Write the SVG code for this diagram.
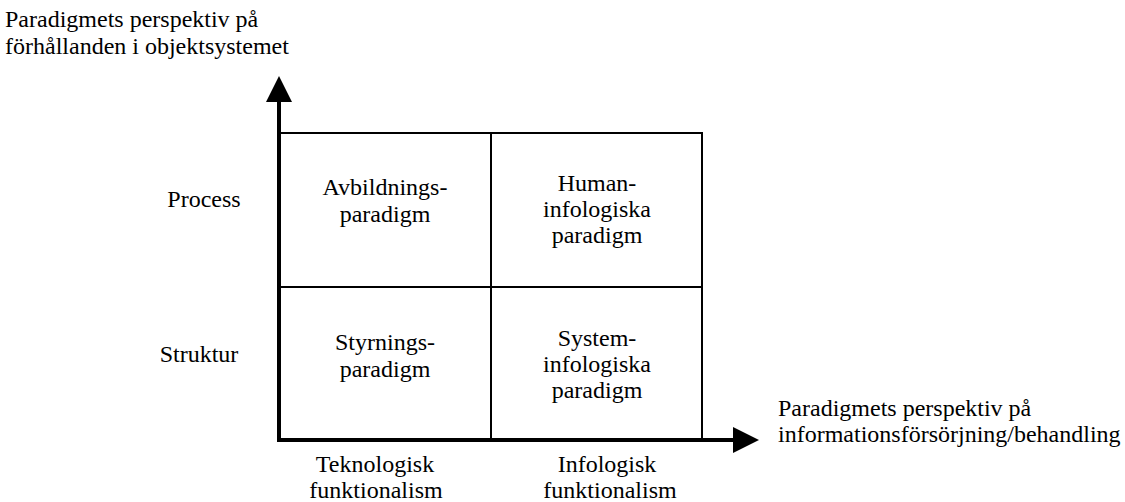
<svg xmlns="http://www.w3.org/2000/svg" width="1125" height="502" viewBox="0 0 1125 502">
  <style>
    text { font-family: "Times New Roman", "Liberation Serif", Times, serif; font-size: 24px; fill: #000; }
    .mid { text-anchor: middle; }
    .grid { stroke: #000; stroke-width: 2; fill: none; }
    .axis { stroke: #000; stroke-width: 4; fill: none; }
  </style>
  <defs>
    <marker id="arrow" viewBox="0 0 26 26" refX="0" refY="13" markerWidth="26" markerHeight="26" markerUnits="userSpaceOnUse" orient="auto">
      <path d="M0,0 L26,13 L0,26 Z" fill="#000"/>
    </marker>
  </defs>

  <rect width="1125" height="502" fill="#fff"/>

  <!-- quadrant grid -->
  <g id="grid">
    <rect class="grid" x="279" y="133" width="423" height="307"/>
    <line class="grid" x1="491" y1="133" x2="491" y2="440"/>
    <line class="grid" x1="279" y1="287" x2="702" y2="287"/>
  </g>

  <!-- axes -->
  <g id="connectors">
    <line class="axis" x1="279" y1="442" x2="279" y2="102" marker-end="url(#arrow)"/>
    <line class="axis" x1="277" y1="440" x2="733" y2="440" marker-end="url(#arrow)"/>
  </g>

  <g id="y-axis-title">
    <text x="5" y="27">Paradigmets perspektiv på</text>
    <text x="5" y="54">förhållanden i objektsystemet</text>
  </g>
  <g id="x-axis-title">
    <text x="778" y="416">Paradigmets perspektiv på</text>
    <text x="778" y="442">informationsförsörjning/behandling</text>
  </g>

  <g id="row-process"><text class="mid" x="204" y="207">Process</text></g>
  <g id="row-struktur"><text class="mid" x="199" y="362">Struktur</text></g>

  <g id="cell-avbildning">
    <text class="mid" x="385" y="195">Avbildnings-</text>
    <text class="mid" x="385" y="222">paradigm</text>
  </g>
  <g id="cell-human">
    <text class="mid" x="597" y="191">Human-</text>
    <text class="mid" x="597" y="217">infologiska</text>
    <text class="mid" x="597" y="243">paradigm</text>
  </g>
  <g id="cell-styrning">
    <text class="mid" x="385" y="350">Styrnings-</text>
    <text class="mid" x="385" y="377">paradigm</text>
  </g>
  <g id="cell-system">
    <text class="mid" x="597" y="346">System-</text>
    <text class="mid" x="597" y="372">infologiska</text>
    <text class="mid" x="597" y="398">paradigm</text>
  </g>

  <g id="col-teknologisk">
    <text class="mid" x="375" y="472">Teknologisk</text>
    <text class="mid" x="376" y="498">funktionalism</text>
  </g>
  <g id="col-infologisk">
    <text class="mid" x="607" y="472">Infologisk</text>
    <text class="mid" x="610" y="498">funktionalism</text>
  </g>
</svg>
